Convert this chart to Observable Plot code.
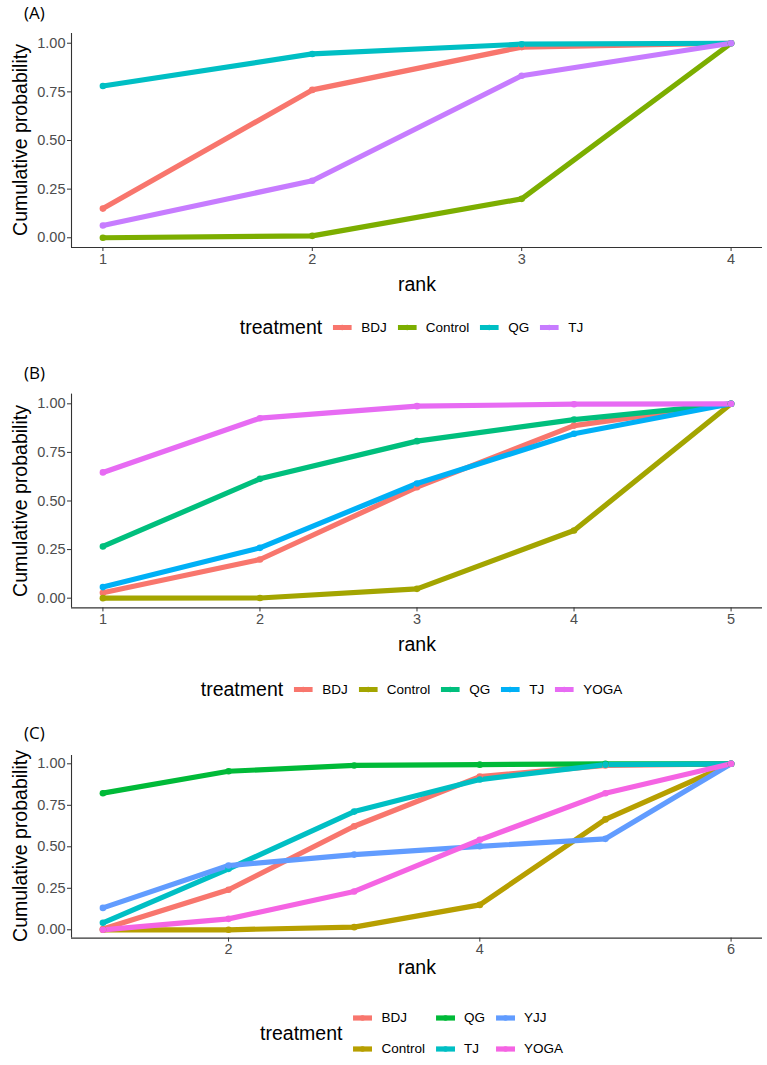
<!DOCTYPE html>
<html>
<head>
<meta charset="utf-8">
<script src="https://cdn.jsdelivr.net/npm/d3@7"></script>
<script src="https://cdn.jsdelivr.net/npm/@observablehq/plot@0.6"></script>
<style>
  body { margin: 0; background: #fff; }
  #root { position: relative; width: 767px; height: 1065px; background: #fff; overflow: hidden;
          font-family: "Liberation Sans", Arial, sans-serif; color: #000; }
  .abs { position: absolute; white-space: nowrap; }
  .panel-tag { font-family: "Open Sans", "DejaVu Sans", sans-serif; font-size: 17px; }
  .ytitle { font-size: 19.5px; transform: translate(-50%, -50%) rotate(-90deg); }
  .xtitle { font-size: 19.5px; transform: translate(-50%, -50%); }
  .legend { transform: translate(-50%, -50%); display: flex; align-items: center; }
  .legend .ttl { font-size: 19.5px; margin-right: 11px; }
  .legend .item { display: flex; align-items: center; font-size: 13.5px; margin-right: 11px; }
  .legend .item svg { margin-right: 9px; }
  .legend .grid { display: grid; grid-auto-flow: column; grid-template-rows: 31px 31px; }
</style>
</head>
<body>
<div id="root"></div>
<script>
// ---------- Data ----------
// Panel A
const ranksA = [1, 2, 3, 4];
const treatmentsA = ["BDJ", "Control", "QG", "TJ"];
const colorsA = ["#F8766D", "#7CAE00", "#00BFC4", "#C77CFF"];
const A_BDJ = [0.15, 0.76, 0.98, 1.00];
const A_Control = [0.00, 0.01, 0.20, 1.00];
const A_QG = [0.78, 0.945, 0.995, 1.00];
const A_TJ = [0.063, 0.293, 0.833, 1.00];

// Panel B
const ranksB = [1, 2, 3, 4, 5];
const treatmentsB = ["BDJ", "Control", "QG", "TJ", "YOGA"];
const colorsB = ["#F8766D", "#A3A500", "#00BF7D", "#00B0F6", "#E76BF3"];
const B_BDJ = [0.028, 0.199, 0.571, 0.888, 1.00];
const B_Control = [0.00, 0.001, 0.048, 0.348, 1.00];
const B_QG = [0.266, 0.614, 0.808, 0.919, 1.00];
const B_TJ = [0.057, 0.259, 0.590, 0.846, 1.00];
const B_YOGA = [0.647, 0.926, 0.988, 0.998, 1.00];

// Panel C
const ranksC = [1, 2, 3, 4, 5, 6];
const treatmentsC = ["BDJ", "Control", "QG", "TJ", "YJJ", "YOGA"];
const colorsC = ["#F8766D", "#B79F00", "#00BA38", "#00BFC4", "#619CFF", "#F564E3"];
const C_BDJ = [0.005, 0.241, 0.624, 0.923, 0.99, 1.00];
const C_Control = [0.00, 0.00, 0.016, 0.150, 0.665, 1.00];
const C_QG = [0.823, 0.955, 0.990, 0.995, 1.00, 1.00];
const C_TJ = [0.042, 0.367, 0.712, 0.905, 0.995, 1.00];
const C_YJJ = [0.132, 0.387, 0.453, 0.503, 0.548, 1.00];
const C_YOGA = [0.00, 0.066, 0.231, 0.542, 0.823, 1.00];

const yTicks = [0, 0.25, 0.5, 0.75, 1];
const ticksXC = [2, 4, 6];

// ---------- Layout ----------
const root = document.getElementById("root");
const FONT = '"Liberation Sans", Arial, sans-serif';

function addDiv(cls, text, left, top) {
  const d = document.createElement("div");
  d.className = "abs " + cls;
  d.textContent = text;
  d.style.left = left + "px";
  d.style.top = top + "px";
  root.appendChild(d);
  return d;
}

function swatch(color) {
  const ns = "http://www.w3.org/2000/svg";
  const s = document.createElementNS(ns, "svg");
  s.setAttribute("width", 19); s.setAttribute("height", 10);
  const l = document.createElementNS(ns, "line");
  l.setAttribute("x1", 0); l.setAttribute("x2", 19); l.setAttribute("y1", 5); l.setAttribute("y2", 5);
  l.setAttribute("stroke", color); l.setAttribute("stroke-width", 5.2);
  const c = document.createElementNS(ns, "circle");
  c.setAttribute("cx", 9.5); c.setAttribute("cy", 5); c.setAttribute("r", 2.8); c.setAttribute("fill", color);
  s.appendChild(l); s.appendChild(c);
  return s;
}

function makeItem(name, color) {
  const it = document.createElement("div");
  it.className = "item";
  it.appendChild(swatch(color));
  const t = document.createElement("span");
  t.textContent = name;
  it.appendChild(t);
  return it;
}

function panel(cfg) {
  const {tag, ranks, treatments, colors, series, xTicks, top, y1, y0, tagTop, rankY, legendY, twoRows} = cfg;
  const rows = treatments.flatMap((t, i) => ranks.map((r, j) => ({treatment: t, rank: r, p: series[i][j]})));
  const n = ranks.length;
  const pad = (n - 1) * 0.05;
  const xDom = [1 - pad, n + pad];
  const yDom = [-0.05, 1.05];
  const marginBottom = 30;
  const chart = Plot.plot({
    width: 767,
    height: y0 - top + marginBottom,
    marginLeft: 71,
    marginRight: 5,
    marginTop: y1 - top,
    marginBottom,
    style: {fontFamily: FONT, fontSize: "14px", background: "transparent", overflow: "visible"},
    x: {domain: xDom},
    y: {domain: yDom},
    color: {domain: treatments, range: colors},
    marks: [
      Plot.axisY({ticks: yTicks, tickFormat: d3.format(".2f"), tickSize: 4, tickPadding: 2,
                  label: null, fill: "#4D4D4D", stroke: "#333", fontSize: 14.5}),
      Plot.axisX({ticks: xTicks, tickSize: 4, tickPadding: 2, tickFormat: d3.format("d"),
                  label: null, fill: "#4D4D4D", stroke: "#333", fontSize: 14.5}),
      Plot.ruleX([xDom[0]], {stroke: "#333", strokeWidth: 1.1}),
      Plot.ruleY([yDom[0]], {stroke: "#333", strokeWidth: 1.1}),
      Plot.line(rows, {x: "rank", y: "p", z: "treatment", stroke: "treatment",
                       strokeWidth: 5.2, strokeLinejoin: "round"}),
      Plot.dot(rows, {x: "rank", y: "p", fill: "treatment", r: 3.3, stroke: "none"})
    ]
  });
  chart.style.position = "absolute";
  chart.style.left = "0px";
  chart.style.top = top + "px";
  root.appendChild(chart);

  addDiv("panel-tag", tag, 24, tagTop);
  addDiv("ytitle", "Cumulative probability", 19.5, (y0 + y1) / 2);
  addDiv("xtitle", "rank", 417, rankY);

  const lg = document.createElement("div");
  lg.className = "abs legend";
  lg.style.left = "417px";
  lg.style.top = legendY + "px";
  const ttl = document.createElement("span");
  ttl.className = "ttl";
  ttl.textContent = "treatment";
  lg.appendChild(ttl);
  if (twoRows) {
    const g = document.createElement("div");
    g.className = "grid";
    treatments.forEach((t, i) => g.appendChild(makeItem(t, colors[i])));
    lg.appendChild(g);
  } else {
    treatments.forEach((t, i) => lg.appendChild(makeItem(t, colors[i])));
  }
  root.appendChild(lg);
}

panel({tag: "(A)", ranks: ranksA, treatments: treatmentsA, colors: colorsA,
       series: [A_BDJ, A_Control, A_QG, A_TJ], xTicks: ranksA,
       top: 0, y1: 33, y0: 247, tagTop: 1, rankY: 284, legendY: 327});

panel({tag: "(B)", ranks: ranksB, treatments: treatmentsB, colors: colorsB,
       series: [B_BDJ, B_Control, B_QG, B_TJ, B_YOGA], xTicks: ranksB,
       top: 340, y1: 393.6, y0: 607.4, tagTop: 361, rankY: 644, legendY: 689});

panel({tag: "(C)", ranks: ranksC, treatments: treatmentsC, colors: colorsC,
       series: [C_BDJ, C_Control, C_QG, C_TJ, C_YJJ, C_YOGA], xTicks: ticksXC,
       top: 700, y1: 755, y0: 937.6, tagTop: 721, rankY: 967, legendY: 1033, twoRows: true});
</script>
</body>
</html>
